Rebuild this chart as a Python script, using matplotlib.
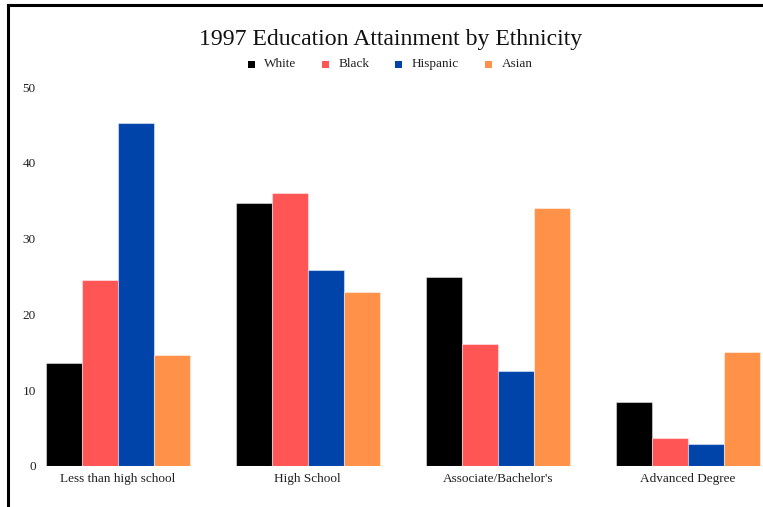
import matplotlib
matplotlib.use("Agg")
import matplotlib.pyplot as plt
import numpy as np
from matplotlib.lines import Line2D
from matplotlib.patches import Rectangle

categories = ["Less than high school", "High School", "Associate/Bachelor's", "Advanced Degree"]
series_names = ["White", "Black", "Hispanic", "Asian"]
white = [13.6, 34.7, 25.0, 8.5]
black = [24.6, 36.0, 16.1, 3.7]
hispanic = [45.2, 25.8, 12.5, 2.9]
asian = [14.7, 23.0, 34.1, 15.1]
yticks = [0, 10, 20, 30, 40, 50]
colors = ["#000000", "#FF5555", "#0044AA", "#FF9148"]

W, H = 763, 507
fig = plt.figure(figsize=(W / 100, H / 100), dpi=100)
serif = ["Liberation Serif", "DejaVu Serif"]

# plot area in pixel terms
left_px, right_px, top_px, bottom_px = 40, 763, 87, 466
ax = fig.add_axes([left_px / W, (H - bottom_px) / H,
                   (right_px - left_px) / W, (bottom_px - top_px) / H])

step = 190.17
c0 = 117.5
ax.set_xlim((left_px - c0) / step, (right_px - c0) / step)
ax.set_ylim(0, 50)

bw = 36 / step
x = np.arange(len(categories))
for k, (vals, name) in enumerate(zip([white, black, hispanic, asian], series_names)):
    ax.bar(x + (k - 1.5) * bw, vals, width=bw, color=colors[k],
           edgecolor=(1, 1, 1, 0.45), linewidth=0.8, label=name)

for s in ax.spines.values():
    s.set_visible(False)
ax.set_yticks(yticks)
ax.set_yticklabels([str(t) for t in yticks], fontfamily=serif, fontsize=9.5, color="#222222")
ax.set_xticks(x)
ax.set_xticklabels(categories, fontfamily=serif, fontsize=9.5, color="#222222")
ax.tick_params(axis="both", length=0)
ax.tick_params(axis="y", pad=3)
ax.tick_params(axis="x", pad=5)

# title
fig.text(390.5 / W, 1 - 45 / H, "1997 Education Attainment by Ethnicity",
         fontfamily=serif, fontsize=17.1, ha="center", va="baseline", color="#111111")

# legend row
sq_x = [248, 322, 395, 485]
tx_x = [264, 339, 412, 502]
for k, name in enumerate(series_names):
    fig.patches.append(Rectangle((sq_x[k] / W, 1 - 68 / H), 7 / W, 7 / H,
                                 transform=fig.transFigure, facecolor=colors[k],
                                 edgecolor="none"))
    fig.text(tx_x[k] / W, 1 - 67 / H, name, fontfamily=serif, fontsize=9.5,
             ha="left", va="baseline", color="#222222")

# frame lines on left and top
fig.add_artist(Line2D([8 / W, 8 / W], [0, 1 - 5 / H], transform=fig.transFigure,
                      color="black", linewidth=2.2, solid_capstyle="projecting"))
fig.add_artist(Line2D([8 / W, 1], [1 - 5 / H, 1 - 5 / H], transform=fig.transFigure,
                      color="black", linewidth=2.2, solid_capstyle="projecting"))

fig.savefig("out.png", dpi=100)
